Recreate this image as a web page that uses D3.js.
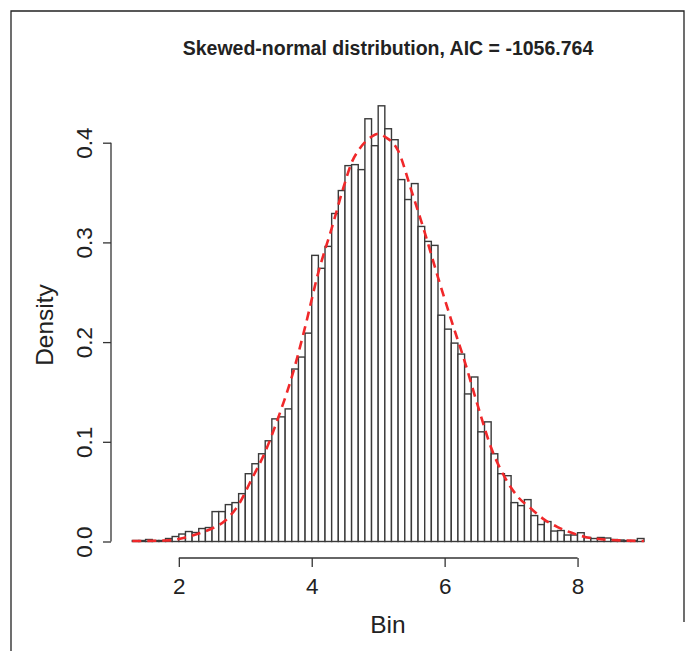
<!DOCTYPE html>
<html>
<head>
<meta charset="utf-8">
<script src="https://cdn.jsdelivr.net/npm/d3@7"></script>
<style>
  body { margin: 0; background: #fff; }
  svg { display: block; font-family: "Liberation Sans", Arial, Helvetica, sans-serif; }
</style>
</head>
<body>
<svg id="chart" width="691" height="651"></svg>
<script>
// histogram: bins of width 0.1 starting at 1.3
const binStart = 1.3;
const binWidth = 0.1;
const densities = [
  0.001, 0.001, 0.002, 0.001, 0.001, 0.003, 0.005, 0.0075, 0.010, 0.009,
  0.013, 0.014, 0.030, 0.030, 0.037, 0.039, 0.048, 0.068, 0.078,
  0.088, 0.101, 0.123, 0.125, 0.133, 0.173, 0.185, 0.209, 0.287, 0.274,
  0.296, 0.329, 0.352, 0.377, 0.378, 0.373, 0.424, 0.397, 0.437,
  0.414, 0.403, 0.363, 0.343, 0.359, 0.316, 0.301, 0.297, 0.227, 0.213,
  0.199, 0.188, 0.148, 0.165, 0.110, 0.120, 0.088, 0.068, 0.066,
  0.039, 0.036, 0.042, 0.026, 0.017, 0.020, 0.0105, 0.011, 0.0065, 0.0065,
  0.0088, 0.004, 0.003, 0.004, 0.0035, 0.002, 0.0015, 0.001, 0.001, 0.003
];

// fitted skew-normal curve
const curveX = [1.3, 1.8, 2.1, 2.3, 2.5, 2.7, 2.9, 3.1, 3.3, 3.5, 3.7, 3.9, 4.1, 4.3, 4.5,
  4.6, 4.7, 4.9, 5.0, 5.1, 5.3, 5.5, 5.7, 5.9, 6.1, 6.3, 6.5, 6.7, 6.9, 7.1, 7.3, 7.5,
  7.7, 7.9, 8.1, 8.4, 8.7, 9.0];
const curveY = [0.0005, 0.001, 0.004, 0.008, 0.013, 0.021, 0.037, 0.063, 0.090, 0.125, 0.165,
  0.215, 0.270, 0.314, 0.360, 0.380, 0.392, 0.406, 0.409, 0.406, 0.392, 0.352, 0.310,
  0.265, 0.222, 0.181, 0.136, 0.094, 0.065, 0.045, 0.033, 0.022, 0.0145, 0.009,
  0.0048, 0.002, 0.001, 0.0005];

const xTicks = [2, 4, 6, 8];
const yTicks = [0.0, 0.1, 0.2, 0.3, 0.4];
const title = 'Skewed-normal distribution, AIC = -1056.764';

const svg = d3.select('#chart');

// frame around the figure
svg.append('path')
  .attr('d', 'M11,651V11H684V622')
  .attr('fill', 'none')
  .attr('stroke', '#222')
  .attr('stroke-width', 1.3);

const x = d3.scaleLinear().domain([1.3, 9.0]).range([132.3, 644]);
const y = d3.scaleLinear().domain([0, 0.4]).range([541.5, 142.7]);

// bars
svg.append('g')
  .selectAll('rect')
  .data(densities)
  .join('rect')
  .attr('x', (d, i) => x(binStart + i * binWidth))
  .attr('width', (d, i) => x(binStart + (i + 1) * binWidth) - x(binStart + i * binWidth))
  .attr('y', d => y(d))
  .attr('height', d => y(0) - y(d))
  .attr('fill', '#fff')
  .attr('stroke', '#3a3a3a')
  .attr('stroke-width', 1.4);

// density curve
const line = d3.line()
  .x(d => x(d[0]))
  .y(d => y(d[1]))
  .curve(d3.curveMonotoneX);

svg.append('path')
  .datum(curveX.map((v, i) => [v, curveY[i]]))
  .attr('d', line)
  .attr('fill', 'none')
  .attr('stroke', '#f0282a')
  .attr('stroke-width', 2.6)
  .attr('stroke-dasharray', '9,6');

// x axis, R style
const xAxis = d3.axisBottom(x)
  .tickValues(xTicks)
  .tickFormat(d3.format('d'))
  .tickSize(9)
  .tickSizeOuter(0)
  .tickPadding(11);

const xg = svg.append('g')
  .attr('transform', 'translate(0,558)')
  .call(xAxis);
xg.select('.domain')
  .attr('d', `M${x(2)},0H${x(8)}`);

// y axis
const yAxis = d3.axisLeft(y)
  .tickValues(yTicks)
  .tickFormat(d3.format('.1f'))
  .tickSize(8)
  .tickSizeOuter(0);

const yg = svg.append('g')
  .attr('transform', 'translate(111,0)')
  .call(yAxis);
yg.select('.domain')
  .attr('d', `M0,${y(0)}V${y(0.4)}`);
yg.selectAll('.tick text')
  .attr('transform', 'rotate(-90)')
  .attr('x', 0)
  .attr('y', -19)
  .attr('dy', 0)
  .attr('text-anchor', 'middle');

svg.selectAll('.domain, .tick line')
  .attr('stroke', '#333')
  .attr('stroke-width', 1.3);
svg.selectAll('.tick text')
  .attr('fill', '#222')
  .style('font-size', '22.5px')
  .style('font-family', '"Liberation Sans", Arial, sans-serif');

// labels
svg.append('text')
  .attr('x', 388)
  .attr('y', 55)
  .attr('text-anchor', 'middle')
  .style('font-size', '19.5px')
  .style('font-weight', 'bold')
  .attr('fill', '#222')
  .text(title);

svg.append('text')
  .attr('x', 388)
  .attr('y', 633)
  .attr('text-anchor', 'middle')
  .style('font-size', '24.5px')
  .attr('fill', '#222')
  .text('Bin');

svg.append('text')
  .attr('transform', 'translate(53,325) rotate(-90)')
  .attr('text-anchor', 'middle')
  .style('font-size', '24.5px')
  .attr('fill', '#222')
  .text('Density');
</script>
</body>
</html>
